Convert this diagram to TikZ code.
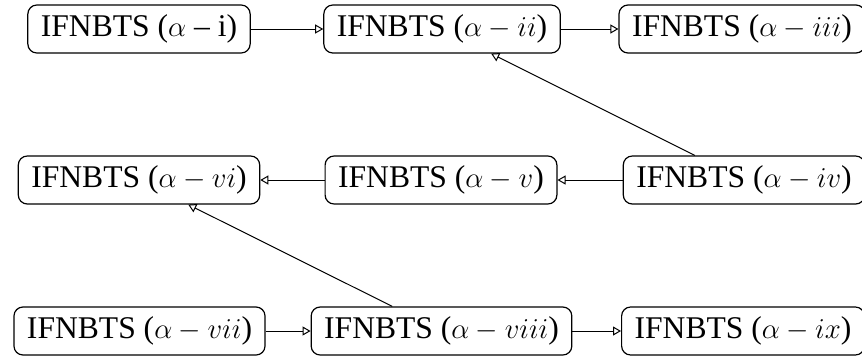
\documentclass[tikz,border=0pt]{standalone}
\usepackage{fontspec}
\setmainfont{Liberation Serif}
\usetikzlibrary{arrows.meta}
\tikzset{
  ifbox/.style={draw, rounded corners=4.5pt, line width=0.6pt, inner xsep=6.5pt, inner ysep=4.6pt,
    font=\fontsize{15.8}{19}\selectfont, text height=11pt, text depth=3.8pt},
  link/.style={line width=0.5pt, -{Triangle[open,length=4pt,width=4.5pt]}}
}
\begin{document}
\begin{tikzpicture}[x=0.5pt,y=-0.5pt]
\useasboundingbox (0,0) rectangle (862,360);
\node[ifbox] (n1) at (139,29) {IFNBTS ($\alpha$ – i)};
\node[ifbox] (n2) at (442,29) {IFNBTS ($\alpha - ii$)};
\node[ifbox] (n3) at (742,29) {IFNBTS ($\alpha - iii$)};
\node[ifbox] (n6) at (139,180) {IFNBTS ($\alpha - vi$)};
\node[ifbox] (n5) at (441,180) {IFNBTS ($\alpha - v$)};
\node[ifbox] (n4) at (744,180) {IFNBTS ($\alpha - iv$)};
\node[ifbox] (n7) at (139.5,331) {IFNBTS ($\alpha - vii$)};
\node[ifbox] (n8) at (441.5,331) {IFNBTS ($\alpha - viii$)};
\node[ifbox] (n9) at (743,331) {IFNBTS ($\alpha - ix$)};
\draw[link] (n1) -- (n2);
\draw[link] (n2) -- (n3);
\draw[link] (n4) -- (n5);
\draw[link] (n5) -- (n6);
\draw[link] (n7) -- (n8);
\draw[link] (n8) -- (n9);
\draw[link] (n4) -- (n2);
\draw[link] (n8) -- (n6);
\end{tikzpicture}
\end{document}
